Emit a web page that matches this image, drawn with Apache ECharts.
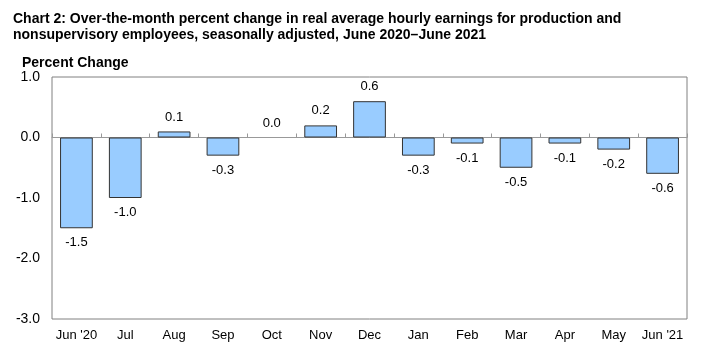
<!DOCTYPE html>
<html lang="en">
<head>
    <meta charset="utf-8" />
    <script src="https://cdn.jsdelivr.net/npm/echarts@6/dist/echarts.min.js"></script>
    <title>chart2</title>
    <style>body{margin:0;background:#fff;}</style>
</head>
<body>
<div id="main" style="width:720px; height:353px;"></div>
<script type="text/javascript">
    let months = ["Jun '20", 'Jul', 'Aug', 'Sep', 'Oct', 'Nov', 'Dec', 'Jan', 'Feb', 'Mar', 'Apr', 'May', "Jun '21"];
    let changes = [-1.5, -1.0, 0.1, -0.3, 0.0, 0.2, 0.6, -0.3, -0.1, -0.5, -0.1, -0.2, -0.6];
    let yTicks = [-3, -2, -1, 0, 1];

    let font = 'Liberation Sans, Arial, sans-serif';
    let myChart = echarts.init(document.getElementById('main'));

    let barData = changes.map(function (v) {
        let item = {
            value: v,
            label: { position: v >= 0 ? 'top' : 'bottom' }
        };
        // a zero bar shows no outline in the original
        if (v === 0) item.itemStyle = { borderWidth: 0 };
        return item;
    });

    option = {
        animation: false,
        textStyle: { fontFamily: font },
        title: {
            text: 'Chart 2: Over-the-month percent change in real average hourly earnings for production and\nnonsupervisory employees, seasonally adjusted, June 2020\u2013June 2021',
            left: 8,
            top: 6,
            textStyle: { fontSize: 14, fontWeight: 'bold', color: '#000', lineHeight: 16, fontFamily: font }
        },
        graphic: [{
            type: 'text',
            left: 22,
            top: 56,
            style: { text: 'Percent Change', font: 'bold 14px ' + font, fill: '#000' }
        }],
        grid: {
            left: 52,
            right: 33,
            top: 77,
            bottom: 34,
            show: true,
            borderColor: '#808080',
            borderWidth: 1
        },
        xAxis: [{
            type: 'category',
            data: months,
            position: 'bottom',
            axisLine: { show: false, onZero: false },
            axisTick: { show: false },
            axisLabel: { interval: 0, fontSize: 13, color: '#000', margin: 10, fontFamily: font }
        }, {
            type: 'category',
            data: months,
            position: 'bottom',
            axisLine: { show: true, onZero: true, lineStyle: { color: '#999', width: 1 } },
            axisTick: { show: true, inside: true, length: 4, interval: 0, lineStyle: { color: '#999' } },
            axisLabel: { show: false }
        }],
        yAxis: {
            type: 'value',
            min: yTicks[0],
            max: yTicks[yTicks.length - 1],
            interval: 1,
            splitLine: { show: false },
            axisLine: { show: false },
            axisTick: { show: false },
            axisLabel: {
                fontSize: 14, color: '#000', margin: 12, fontFamily: font,
                formatter: function (v) { return v.toFixed(1); }
            }
        },
        series: [{
            type: 'bar',
            xAxisIndex: 0,
            data: barData,
            barWidth: '67%',
            itemStyle: { color: '#99CCFF', borderColor: '#333', borderWidth: 1 },
            label: {
                show: true,
                fontSize: 13,
                color: '#000',
                distance: 8,
                fontFamily: font,
                formatter: function (p) { return p.value.toFixed(1); }
            }
        }]
    };
    myChart.setOption(option);
</script>
</body>
</html>
